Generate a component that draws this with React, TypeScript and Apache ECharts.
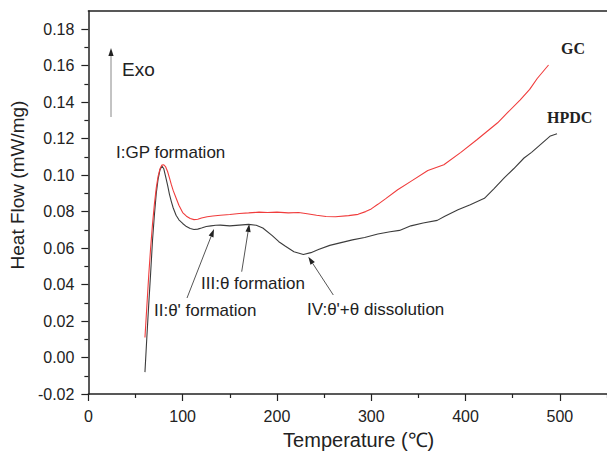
import React, { useEffect, useRef } from "react";
import * as echarts from "echarts";

// GC (red) curve
const gcTemp = [60, 62, 64, 66, 68, 70, 72, 74, 76, 78, 80, 82, 84, 86, 88, 90, 93, 96, 100, 104, 108, 112, 116, 120, 126, 132, 140, 150, 160, 170, 181, 190, 200, 212, 223, 232, 242, 252, 262, 276, 286, 294, 300, 307, 315, 328, 342, 360, 377, 395, 412, 434, 445, 458, 468, 476, 488];
const gcFlow = [0.011, 0.028, 0.045, 0.06, 0.073, 0.084, 0.093, 0.0995, 0.1035, 0.1055, 0.1057, 0.1045, 0.102, 0.0985, 0.0948, 0.0915, 0.0875, 0.0835, 0.0795, 0.0775, 0.0762, 0.0756, 0.0758, 0.0765, 0.0772, 0.0776, 0.078, 0.0784, 0.079, 0.0793, 0.0797, 0.0795, 0.0797, 0.0793, 0.0795, 0.0788, 0.078, 0.0773, 0.0772, 0.0778, 0.0785, 0.08, 0.0815, 0.084, 0.087, 0.092, 0.0966, 0.1025, 0.1057, 0.1125, 0.1194, 0.1287, 0.1345, 0.1413, 0.147, 0.153, 0.1604];

// HPDC (black) curve
const hpdcTemp = [60, 62, 64, 66, 68, 70, 72, 74, 76, 78, 80, 82, 84, 86, 88, 90, 93, 96, 100, 104, 108, 112, 116, 120, 125, 130, 135, 140, 150, 160, 170, 178, 185, 195, 202, 209, 218, 228, 236, 244, 256, 268, 280, 293, 307, 320, 330, 342, 355, 370, 378, 392, 405, 420, 430, 441, 451, 462, 470, 480, 490, 497];
const hpdcFlow = [-0.008, 0.011, 0.029, 0.046, 0.064, 0.078, 0.09, 0.098, 0.103, 0.105, 0.1035, 0.099, 0.0945, 0.0895, 0.0855, 0.082, 0.078, 0.0755, 0.0735, 0.0718, 0.0707, 0.0702, 0.0704, 0.071, 0.0718, 0.0722, 0.0725, 0.0726, 0.0722, 0.0726, 0.073, 0.0725, 0.071, 0.0668, 0.0635, 0.061, 0.058, 0.0565, 0.0575, 0.0592, 0.0615, 0.063, 0.0645, 0.0658, 0.0677, 0.069, 0.0697, 0.0722, 0.0738, 0.0752, 0.0775, 0.081, 0.0838, 0.0873, 0.0925, 0.0985, 0.1035, 0.1094, 0.1125, 0.117, 0.1215, 0.1227];

// Axis ticks
const xMajorTicks = [0, 100, 200, 300, 400, 500];
const xMinorTicks = [50, 150, 250, 350, 450, 550];
const yMajorTicks = [-0.02, 0.0, 0.02, 0.04, 0.06, 0.08, 0.1, 0.12, 0.14, 0.16, 0.18];
const yMinorTicks = [-0.01, 0.01, 0.03, 0.05, 0.07, 0.09, 0.11, 0.13, 0.15, 0.17];

const SANS = '"Liberation Sans", Arial, sans-serif';
const SERIF = '"Liberation Serif", "Times New Roman", serif';
const AXIS_COLOR = "#222";
const TEXT_COLOR = "#222";

function arrow(x1: number, y1: number, x2: number, y2: number, color: string, lineColor: string) {
  const dx = x2 - x1;
  const dy = y2 - y1;
  const len = Math.sqrt(dx * dx + dy * dy);
  const ux = dx / len;
  const uy = dy / len;
  const hl = 8;
  const hw = 2.6;
  const bx = x2 - ux * hl;
  const by = y2 - uy * hl;
  return {
    type: "group",
    children: [
      {
        type: "line",
        shape: { x1, y1, x2: bx, y2: by },
        style: { stroke: lineColor, lineWidth: 1 },
      },
      {
        type: "polygon",
        shape: {
          points: [
            [x2, y2],
            [bx - uy * hw, by + ux * hw],
            [bx + uy * hw, by - ux * hw],
          ],
        },
        style: { fill: color },
      },
    ],
  };
}

function label(text: string, x: number, y: number, font: string) {
  return {
    type: "text",
    x,
    y,
    style: { text, fill: TEXT_COLOR, font, textAlign: "left", textVerticalAlign: "middle" },
  };
}

export default function App() {
  const ref = useRef<HTMLDivElement>(null);

  useEffect(() => {
    if (!ref.current) return;
    const chart = echarts.init(ref.current, undefined, { renderer: "svg" });
    const gcData = gcTemp.map((t, i) => [t, gcFlow[i]]);
    const hpdcData = hpdcTemp.map((t, i) => [t, hpdcFlow[i]]);

    const baseAxisLine = { show: true, onZero: false, lineStyle: { color: AXIS_COLOR, width: 1.5 } };

    chart.setOption({
      animation: false,
      backgroundColor: "#fff",
      grid: { left: 88, top: 11, right: -3.5, bottom: 63, containLabel: false },
      xAxis: [
        {
          type: "value",
          min: 0,
          max: 550,
          interval: 100,
          position: "bottom",
          axisLine: baseAxisLine,
          axisTick: { show: true, inside: false, length: 7, customValues: xMajorTicks, lineStyle: { color: AXIS_COLOR, width: 1.2 } },
          axisLabel: { customValues: xMajorTicks, margin: 14, fontSize: 16, color: TEXT_COLOR, fontFamily: SANS },
          splitLine: { show: false },
          name: "Temperature (℃)",
          nameLocation: "middle",
          nameGap: 36,
          nameTextStyle: { fontSize: 20, color: TEXT_COLOR, fontFamily: SANS, padding: [0, 0, 0, 22] },
        },
        {
          type: "value",
          min: 0,
          max: 550,
          interval: 50,
          position: "bottom",
          axisLine: { show: false, onZero: false },
          axisTick: { show: true, inside: false, length: 4, customValues: xMinorTicks, lineStyle: { color: AXIS_COLOR, width: 1.2 } },
          axisLabel: { show: false },
          splitLine: { show: false },
        },
        {
          type: "value",
          min: 0,
          max: 550,
          position: "top",
          axisLine: baseAxisLine,
          axisTick: { show: false },
          axisLabel: { show: false },
          splitLine: { show: false },
        },
      ],
      yAxis: [
        {
          type: "value",
          min: -0.02,
          max: 0.19,
          interval: 0.02,
          position: "left",
          axisLine: baseAxisLine,
          axisTick: { show: true, inside: false, length: 7, customValues: yMajorTicks, lineStyle: { color: AXIS_COLOR, width: 1.2 } },
          axisLabel: {
            customValues: yMajorTicks,
            margin: 14,
            fontSize: 16,
            color: TEXT_COLOR,
            fontFamily: SANS,
            formatter: (v: number) => v.toFixed(2),
          },
          splitLine: { show: false },
          name: "Heat Flow (mW/mg)",
          nameLocation: "middle",
          nameGap: 58,
          nameTextStyle: { fontSize: 19, color: TEXT_COLOR, fontFamily: SANS, padding: [0, 0, 0, 35] },
        },
        {
          type: "value",
          min: -0.02,
          max: 0.19,
          interval: 0.01,
          position: "left",
          axisLine: { show: false, onZero: false },
          axisTick: { show: true, inside: false, length: 4, customValues: yMinorTicks, lineStyle: { color: AXIS_COLOR, width: 1.2 } },
          axisLabel: { show: false },
          splitLine: { show: false },
        },
      ],
      series: [
        {
          name: "GC",
          type: "line",
          xAxisIndex: 0,
          yAxisIndex: 0,
          data: gcData,
          showSymbol: false,
          symbol: "none",
          lineStyle: { color: "#f03c3c", width: 1.1 },
          z: 3,
        },
        {
          name: "HPDC",
          type: "line",
          xAxisIndex: 0,
          yAxisIndex: 0,
          data: hpdcData,
          showSymbol: false,
          symbol: "none",
          lineStyle: { color: "#3c3c3c", width: 1.1 },
          z: 2,
        },
      ],
      graphic: [
        arrow(111, 117, 111, 48, "#222", "#888"),
        label("Exo", 122, 69, `19px ${SANS}`),
        label("I:GP formation", 116, 152, `17px ${SANS}`),
        label("II:θ' formation", 154, 310, `17px ${SANS}`),
        label("III:θ formation", 201, 283, `17px ${SANS}`),
        label("IV:θ'+θ dissolution", 307, 309, `17px ${SANS}`),
        label("GC", 561, 48, `bold 16px ${SERIF}`),
        label("HPDC", 547, 117, `bold 16px ${SERIF}`),
        arrow(187, 298, 214, 229, "#222", "#555"),
        arrow(241.7, 271.7, 249.3, 224, "#222", "#555"),
        arrow(333.3, 295, 308.3, 256.7, "#222", "#555"),
      ],
    });

    return () => chart.dispose();
  }, []);

  return <div ref={ref} style={{ width: 607, height: 457, position: "absolute", left: 0, top: 0 }} />;
}
